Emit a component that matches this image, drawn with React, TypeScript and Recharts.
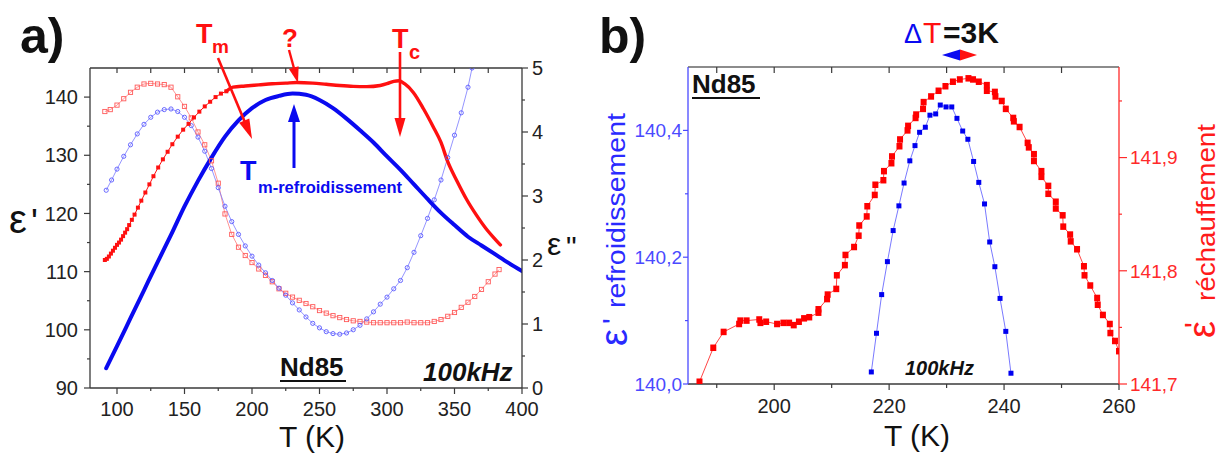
import React from 'react';
import { LineChart, Line, XAxis, YAxis } from 'recharts';

const FONT = '"Liberation Sans", Arial, sans-serif';

// ---------------- Panel a) data ----------------
// epsilon' cooling (thick blue), left axis
const aCoolT = [92, 100, 110, 120, 130, 140, 150, 160, 170, 180, 190, 200, 210, 220, 230, 240, 250, 260, 270, 280, 290, 300, 310, 320, 330, 340, 350, 360, 370, 380, 390, 400];
const aCoolEps1 = [93.4, 97.2, 102.0, 106.8, 111.6, 116.3, 121.2, 125.6, 129.6, 133.2, 136.0, 138.1, 139.5, 140.2, 140.6, 140.4, 139.5, 138.1, 136.3, 134.3, 132.2, 129.8, 127.5, 125.0, 122.5, 120.1, 118.0, 116.0, 114.5, 113.0, 111.5, 110.1];
// epsilon' heating, low-temperature part (red small squares), left axis
const aHeatLowT = [91, 92.5, 94, 95.5, 97, 98.5, 100, 101.5, 103, 104.5, 106, 107.5, 109, 111, 113, 115.5, 118, 121, 124, 127, 130.5, 134, 137.5, 141, 145, 149, 153, 157, 161, 165, 169, 173, 177, 181];
const aHeatLowEps1 = [112.0, 112.2, 112.6, 113.1, 113.6, 114.1, 114.6, 115.0, 115.5, 116.1, 116.7, 117.3, 118.0, 118.9, 119.8, 121.0, 122.2, 123.6, 125.0, 126.4, 127.9, 129.3, 130.6, 131.9, 133.2, 134.4, 135.4, 136.5, 137.5, 138.4, 139.2, 140.0, 140.6, 141.0];
// epsilon' heating, high-temperature part (thick red), left axis
const aHeatHighT = [181, 186, 195, 205, 215, 225, 233, 245, 255, 265, 275, 285, 295, 300, 305, 309, 313, 319.5, 327, 334, 340, 345, 352, 359, 366, 374, 380, 384];
const aHeatHighEps1 = [141.0, 141.7, 141.9, 142.1, 142.3, 142.4, 142.5, 142.4, 142.2, 142.0, 141.85, 141.8, 142.0, 142.3, 142.7, 142.8, 142.3, 140.8, 138.0, 135.0, 132.2, 128.9, 125.5, 122.4, 119.8, 117.2, 115.6, 114.6];
// epsilon'' cooling (open blue circles), right axis
const aCoolE2T = [92, 96, 100, 105, 110, 115, 120, 125, 130, 135, 140, 145, 150, 155, 160, 165, 170, 175, 180, 185, 190, 195, 200, 205, 210, 215, 220, 225, 230, 235, 240, 245, 250, 255, 260, 265, 270, 275, 280, 285, 290, 295, 300, 305, 310, 315, 320, 325, 330, 335, 340, 345, 350, 355, 360, 363];
const aCoolEps2 = [3.09, 3.25, 3.42, 3.62, 3.80, 3.97, 4.12, 4.23, 4.31, 4.35, 4.36, 4.32, 4.23, 4.10, 3.92, 3.70, 3.43, 3.13, 2.84, 2.60, 2.40, 2.22, 2.06, 1.92, 1.80, 1.68, 1.56, 1.45, 1.33, 1.22, 1.11, 1.01, 0.94, 0.88, 0.85, 0.84, 0.86, 0.91, 0.98, 1.08, 1.19, 1.31, 1.42, 1.55, 1.68, 1.88, 2.12, 2.38, 2.65, 2.94, 3.25, 3.60, 3.95, 4.30, 4.70, 5.0];
// epsilon'' heating (open red squares), right axis
const aHeatE2T = [91, 95, 100, 105, 110, 115, 120, 125, 130, 135, 140, 145, 150, 155, 160, 165, 170, 175, 180, 185, 190, 195, 200, 205, 210, 215, 220, 225, 230, 235, 240, 245, 250, 255, 260, 265, 270, 275, 280, 285, 290, 295, 300, 305, 310, 315, 320, 325, 330, 335, 340, 345, 350, 355, 360, 365, 370, 375, 380, 383];
const aHeatEps2 = [4.32, 4.35, 4.42, 4.52, 4.62, 4.70, 4.75, 4.76, 4.75, 4.74, 4.70, 4.55, 4.40, 4.22, 4.00, 3.80, 3.55, 3.20, 2.72, 2.40, 2.20, 2.07, 1.96, 1.86, 1.76, 1.66, 1.55, 1.48, 1.42, 1.37, 1.32, 1.27, 1.21, 1.17, 1.13, 1.10, 1.07, 1.05, 1.04, 1.03, 1.02, 1.02, 1.02, 1.02, 1.02, 1.03, 1.02, 1.02, 1.02, 1.04, 1.07, 1.12, 1.18, 1.26, 1.34, 1.43, 1.54, 1.66, 1.78, 1.85];

const aBottomTicks = [100, 125, 150, 175, 200, 225, 250, 275, 300, 325, 350, 375, 400];
const aBottomMajors = [100, 150, 200, 250, 300, 350, 400];
const aTopTicks = [100, 125, 150, 175, 200, 225, 250, 275, 300, 325, 350, 375];
const aLeftTicks = [90, 95, 100, 105, 110, 115, 120, 125, 130, 135, 140];
const aLeftMajors = [90, 100, 110, 120, 130, 140];
const aRightTicks = [0, 0.5, 1, 1.5, 2, 2.5, 3, 3.5, 4, 4.5, 5];
const aRightMajors = [0, 1, 2, 3, 4, 5];

// ---------------- Panel b) data ----------------
const bCoolT = [216.9, 217.8, 218.7, 219.7, 220.7, 221.7, 222.6, 223.6, 224.5, 225.3, 226.3, 227.1, 228.1, 228.9, 229.9, 230.9, 231.8, 232.8, 233.7, 234.7, 235.6, 236.6, 237.5, 238.4, 239.3, 240.3, 241.2];
const bCoolEps = [140.019, 140.080, 140.141, 140.193, 140.242, 140.281, 140.317, 140.352, 140.376, 140.397, 140.405, 140.424, 140.426, 140.440, 140.437, 140.437, 140.419, 140.399, 140.386, 140.351, 140.318, 140.284, 140.224, 140.185, 140.135, 140.083, 140.017];
const bHeatT = [
  187.0, 189.4, 191.2, 193.9, 194.1, 195.2, 197.4, 197.6, 198.6, 200.5,
  201.6, 202.6, 203.4, 204.3, 205.2, 206.1, 207.7, 207.7, 209.2, 209.3,
  210.8, 210.9, 212.3, 212.4, 213.9, 214.7, 214.8, 216.1, 216.2, 217.5,
  217.6, 219.0, 219.1, 220.4, 220.5, 221.8, 221.9, 223.2, 223.3, 224.6,
  224.7, 225.9, 226.0, 227.3, 228.6, 229.8, 231.1, 232.3, 233.8, 234.6,
  235.6, 237.0, 237.0, 238.4, 238.5, 239.6, 240.3, 241.6, 241.7, 242.7,
  244.1, 244.3, 245.2, 245.2, 246.5, 246.5, 247.7, 247.7, 249.0, 249.0,
  250.2, 250.3, 251.5, 251.6, 252.7, 253.9, 254.0, 255.0, 256.2, 256.3,
  257.2, 258.4, 258.5, 259.3, 260.0,
];
const bHeatEps = [
  141.702, 141.732, 141.746, 141.753, 141.756, 141.756, 141.757, 141.754, 141.755, 141.753,
  141.754, 141.754, 141.752, 141.755, 141.758, 141.759, 141.763, 141.766, 141.775, 141.779,
  141.784, 141.796, 141.805, 141.814, 141.821, 141.831, 141.840, 141.848, 141.857, 141.867,
  141.876, 141.880, 141.888, 141.895, 141.901, 141.910, 141.916, 141.924, 141.928, 141.935,
  141.938, 141.943, 141.949, 141.954, 141.959, 141.963, 141.967, 141.969, 141.970, 141.969,
  141.967, 141.964, 141.959, 141.958, 141.954, 141.950, 141.943, 141.935, 141.932, 141.927,
  141.913, 141.909, 141.903, 141.897, 141.888, 141.883, 141.875, 141.868, 141.861, 141.855,
  141.849, 141.839, 141.832, 141.826, 141.819, 141.804, 141.796, 141.787, 141.776, 141.770,
  141.761, 141.753, 141.745, 141.738, 141.729,
];

const bBottomTicks = [190, 200, 210, 220, 230, 240, 250, 260];
const bBottomMajors = [200, 220, 240, 260];
const bTopTicks = [190, 200, 210, 220, 230, 240, 250];
const bLeftTicks = [140.0, 140.1, 140.2, 140.3, 140.4];
const bLeftMajors = [140.0, 140.2, 140.4];
const bRightTicks = [141.7, 141.75, 141.8, 141.85, 141.9, 141.95];
const bRightMajors = [141.7, 141.8, 141.9];

// ---------------- helpers ----------------
const toPts = (ts: number[], vs: number[]) =>
  ts.slice(0, Math.min(ts.length, vs.length)).map((t, i) => ({ T: t, v: vs[i] }));

const aCoolData = toPts(aCoolT, aCoolEps1);
const aHeatLowData = toPts(aHeatLowT, aHeatLowEps1);
const aHeatHighData = toPts(aHeatHighT, aHeatHighEps1);
const aCoolE2Data = toPts(aCoolE2T, aCoolEps2);
const aHeatE2Data = toPts(aHeatE2T, aHeatEps2);
const bCoolData = toPts(bCoolT, bCoolEps);
const bHeatData = toPts(bHeatT, bHeatEps);

type TickCfg = {
  side: 'bottom' | 'top' | 'left' | 'right';
  majors: number[];
  majorLen: number;
  minorLen: number;
  fmt?: (v: number) => string;
  color: string;
  tickColor: string;
  fontSize: number;
  offset: number;
};

const makeTick = (cfg: TickCfg) => (props: any) => {
  const { x, y, payload } = props;
  const v = payload.value as number;
  const isMajor = cfg.majors.some((m) => Math.abs(m - v) < 1e-6);
  const len = isMajor ? cfg.majorLen : cfg.minorLen;
  const lineProps = { stroke: cfg.tickColor, strokeWidth: 1.2 };
  let line: any = null;
  let text: any = null;
  const label = cfg.fmt ? cfg.fmt(v) : String(v);
  const tp = { fill: cfg.color, fontSize: cfg.fontSize, fontFamily: FONT };
  if (cfg.side === 'bottom') {
    line = <line x1={x} y1={y} x2={x} y2={y + len} {...lineProps} />;
    if (isMajor && cfg.fmt) text = <text x={x} y={y + cfg.offset} textAnchor="middle" {...tp}>{label}</text>;
  } else if (cfg.side === 'top') {
    line = <line x1={x} y1={y} x2={x} y2={y + len} {...lineProps} />;
  } else if (cfg.side === 'left') {
    line = <line x1={x - len} y1={y} x2={x} y2={y} {...lineProps} />;
    if (isMajor && cfg.fmt) text = <text x={x - cfg.offset} y={y} dy="0.36em" textAnchor="end" {...tp}>{label}</text>;
  } else {
    line = <line x1={x} y1={y} x2={x + len} y2={y} {...lineProps} />;
    if (isMajor && cfg.fmt) text = <text x={x + cfg.offset} y={y} dy="0.36em" textAnchor="start" {...tp}>{label}</text>;
  }
  return (
    <g>
      {line}
      {text}
    </g>
  );
};

const AX = '#3a3a3a';
const fmtInt = (v: number) => String(Math.round(v));
const fmtComma = (v: number) => v.toFixed(1).replace('.', ',');

const tickABottom = makeTick({ side: 'bottom', majors: aBottomMajors, majorLen: 6, minorLen: 3, fmt: fmtInt, color: '#222', tickColor: AX, fontSize: 20, offset: 28 });
const tickATop = makeTick({ side: 'top', majors: [], majorLen: 5, minorLen: 5, color: '#222', tickColor: AX, fontSize: 20, offset: 0 });
const tickALeft = makeTick({ side: 'left', majors: aLeftMajors, majorLen: 6, minorLen: 3, fmt: fmtInt, color: '#222', tickColor: AX, fontSize: 20, offset: 12 });
const tickARight = makeTick({ side: 'right', majors: aRightMajors, majorLen: 6, minorLen: 3, fmt: fmtInt, color: '#222', tickColor: AX, fontSize: 20, offset: 10 });

const BLUE_AX = '#4a4aff';
const RED_AX = '#ff2a2a';
const tickBBottom = makeTick({ side: 'bottom', majors: bBottomMajors, majorLen: 6, minorLen: 4, fmt: fmtInt, color: '#222', tickColor: AX, fontSize: 20, offset: 29 });
const tickBTop = makeTick({ side: 'top', majors: [], majorLen: 6, minorLen: 6, color: '#222', tickColor: AX, fontSize: 20, offset: 0 });
const tickBLeft = makeTick({ side: 'left', majors: bLeftMajors, majorLen: 5, minorLen: 3, fmt: fmtComma, color: BLUE_AX, tickColor: BLUE_AX, fontSize: 19, offset: 6 });
const tickBRight = makeTick({ side: 'right', majors: bRightMajors, majorLen: 8, minorLen: 3, fmt: fmtComma, color: RED_AX, tickColor: RED_AX, fontSize: 19, offset: 11 });

const hollowCircle = (color: string) => (p: any) =>
  p.cx == null ? <g key={`hc${p.index}`} /> : (
    <circle key={`hc${p.index}`} cx={p.cx} cy={p.cy} r={2.1} fill="none" stroke={color} strokeWidth={0.9} />
  );
const hollowSquare = (color: string) => (p: any) =>
  p.cx == null ? <g key={`hs${p.index}`} /> : (
    <rect key={`hs${p.index}`} x={p.cx - 2.1} y={p.cy - 2.1} width={4.2} height={4.2} fill="none" stroke={color} strokeWidth={0.9} />
  );
const filledSquare = (color: string, s: number, h?: number) => (p: any) =>
  p.cx == null ? <g key={`fs${p.index}`} /> : (
    <rect key={`fs${p.index}`} x={p.cx - s / 2} y={p.cy - (h ?? s) / 2} width={s} height={h ?? s} fill={color} stroke="none" />
  );

function Arrow({ x1, y1, x2, y2, color, w, hl, hw }: any) {
  const dx = x2 - x1;
  const dy = y2 - y1;
  const L = Math.hypot(dx, dy);
  const ux = dx / L;
  const uy = dy / L;
  const bx = x2 - ux * hl;
  const by = y2 - uy * hl;
  const px = -uy;
  const py = ux;
  return (
    <g>
      <line x1={x1} y1={y1} x2={bx + ux * 2} y2={by + uy * 2} stroke={color} strokeWidth={w} />
      <polygon points={`${x2},${y2} ${bx + (px * hw) / 2},${by + (py * hw) / 2} ${bx - (px * hw) / 2},${by - (py * hw) / 2}`} fill={color} />
    </g>
  );
}

const RED = '#ff1010';
const BLUE = '#0a0af0';

export default function App() {
  return (
    <div style={{ position: 'absolute', left: 0, top: 0, width: 1225, height: 454, background: '#fff', overflow: 'hidden', fontFamily: FONT }}>
      {/* Panel a */}
      <div style={{ position: 'absolute', left: 0, top: 0 }}>
        <LineChart width={560} height={454} margin={{ top: 67, right: 8, bottom: 36, left: 30 }}>
          <XAxis xAxisId="b" dataKey="T" type="number" domain={[80, 400]} ticks={aBottomTicks} interval={0} tickSize={0} tickMargin={0} tickLine={false} height={30} axisLine={{ stroke: AX, strokeWidth: 1.3 }} tick={tickABottom} allowDataOverflow />
          <XAxis xAxisId="t" orientation="top" dataKey="T" type="number" domain={[80, 400]} ticks={aTopTicks} interval={0} tickSize={0} tickMargin={0} tickLine={false} height={1} axisLine={{ stroke: AX, strokeWidth: 1.3 }} tick={tickATop} allowDataOverflow />
          <YAxis yAxisId="l" type="number" domain={[90, 145]} ticks={aLeftTicks} interval={0} tickSize={0} tickMargin={0} tickLine={false} width={60} axisLine={{ stroke: AX, strokeWidth: 1.3 }} tick={tickALeft} allowDataOverflow />
          <YAxis yAxisId="r" orientation="right" type="number" domain={[0, 5]} ticks={aRightTicks} interval={0} tickSize={0} tickMargin={0} tickLine={false} width={30} axisLine={{ stroke: AX, strokeWidth: 1.3 }} tick={tickARight} allowDataOverflow />
          <Line xAxisId="b" yAxisId="r" data={aHeatE2Data} dataKey="v" type="linear" stroke="#ff7a7a" strokeWidth={0.8} dot={hollowSquare('#ff5a5a')} isAnimationActive={false} />
          <Line xAxisId="b" yAxisId="r" data={aCoolE2Data} dataKey="v" type="linear" stroke="#7a7aff" strokeWidth={0.8} dot={hollowCircle('#5a5aff')} isAnimationActive={false} />
          <Line xAxisId="b" yAxisId="l" data={aHeatLowData} dataKey="v" type="linear" stroke={RED} strokeWidth={1} dot={filledSquare(RED, 4)} isAnimationActive={false} />
          <Line xAxisId="b" yAxisId="l" data={aHeatHighData} dataKey="v" type="monotone" stroke={RED} strokeWidth={3.4} strokeLinecap="round" dot={false} isAnimationActive={false} />
          <Line xAxisId="b" yAxisId="l" data={aCoolData} dataKey="v" type="monotone" stroke={BLUE} strokeWidth={4} strokeLinecap="round" dot={false} isAnimationActive={false} />
        </LineChart>
      </div>

      {/* Panel b */}
      <div style={{ position: 'absolute', left: 600, top: 0 }}>
        <LineChart width={625} height={454} margin={{ top: 66, right: 46, bottom: 40, left: 28 }}>
          <XAxis xAxisId="b" dataKey="T" type="number" domain={[185, 260]} ticks={bBottomTicks} interval={0} tickSize={0} tickMargin={0} tickLine={false} height={30} axisLine={{ stroke: AX, strokeWidth: 1.3 }} tick={tickBBottom} allowDataOverflow />
          <XAxis xAxisId="t" orientation="top" dataKey="T" type="number" domain={[185, 260]} ticks={bTopTicks} interval={0} tickSize={0} tickMargin={0} tickLine={false} height={1} axisLine={{ stroke: '#666', strokeWidth: 1.3 }} tick={tickBTop} allowDataOverflow />
          <YAxis yAxisId="l" type="number" domain={[140.0, 140.5]} ticks={bLeftTicks} interval={0} tickSize={0} tickMargin={0} tickLine={false} width={60} axisLine={{ stroke: BLUE_AX, strokeWidth: 1.3 }} tick={tickBLeft} allowDataOverflow />
          <YAxis yAxisId="r" orientation="right" type="number" domain={[141.7, 141.98]} ticks={bRightTicks} interval={0} tickSize={0} tickMargin={0} tickLine={false} width={60} axisLine={{ stroke: RED_AX, strokeWidth: 1.3 }} tick={tickBRight} allowDataOverflow />
          <Line xAxisId="b" yAxisId="r" data={bHeatData} dataKey="v" type="linear" stroke="#ff3030" strokeWidth={0.9} dot={filledSquare('#ff0000', 6, 6.5)} isAnimationActive={false} />
          <Line xAxisId="b" yAxisId="l" data={bCoolData} dataKey="v" type="linear" stroke="#6a6aff" strokeWidth={0.9} dot={filledSquare('#0000f0', 5)} isAnimationActive={false} />
        </LineChart>
      </div>

      {/* Annotations */}
      <svg width={1225} height={454} style={{ position: 'absolute', left: 0, top: 0, pointerEvents: 'none' }} fontFamily={FONT}>
        {/* panel labels */}
        <text x={20} y={53} fontSize={50} fontWeight={700} fill="#111">a)</text>
        <text x={599} y={53} fontSize={50} fontWeight={700} fill="#111">b)</text>

        {/* panel a axis titles */}
        <text x={9} y={233} fontSize={40} fill="#111">ε</text>
        <text x={31} y={235} fontSize={36} fill="#111">'</text>
        <text x={547} y={255} fontSize={32} fill="#111">ε</text>
        <text x={566} y={257} fontSize={30} fill="#111">"</text>
        <text x={312} y={447} fontSize={30} textAnchor="middle" fill="#111">T (K)</text>

        {/* panel a annotations */}
        <text x={196} y={43} fontSize={27} fontWeight={700} fill={RED}>T</text>
        <text x={212} y={53} fontSize={19} fontWeight={700} fill={RED}>m</text>
        <Arrow x1={218} y1={58} x2={252} y2={139} color={RED} w={2.6} hl={20} hw={11} />
        <text x={282} y={47} fontSize={26} fontWeight={700} fill={RED}>?</text>
        <Arrow x1={289} y1={50} x2={298} y2={83} color={RED} w={2.4} hl={16} hw={10} />
        <text x={392} y={48} fontSize={27} fontWeight={700} fill={RED}>T</text>
        <text x={409} y={59} fontSize={20} fontWeight={700} fill={RED}>c</text>
        <Arrow x1={400} y1={52} x2={400} y2={137} color={RED} w={2.6} hl={19} hw={11} />
        <Arrow x1={294} y1={168} x2={294} y2={104} color={BLUE} w={3} hl={18} hw={12} />
        <text x={240} y={180} fontSize={27} fontWeight={700} fill={BLUE}>T</text>
        <text x={258} y={193} fontSize={16.5} fontWeight={700} fill={BLUE}>m-refroidissement</text>
        <text x={280} y={376} fontSize={26} fontWeight={700} fill="#111">Nd85</text>
        <line x1={280} y1={381} x2={346} y2={381} stroke="#111" strokeWidth={2} />
        <text x={423} y={381} fontSize={26} fontWeight={700} fontStyle="italic" fill="#111">100kHz</text>

        {/* panel b annotations */}
        <text x={904} y={43} fontSize={27} fill={BLUE}>Δ</text>
        <text x={923} y={43} fontSize={30} fill={RED}>T</text>
        <text x={943} y={43} fontSize={30} fontWeight={700} fill="#111">=3K</text>
        <polygon points="942,55 960,49.5 960,60.5" fill={BLUE} />
        <polygon points="977,55 960,49.5 960,60.5" fill={RED} />
        <text x={692} y={93} fontSize={26} fontWeight={700} fill="#111">Nd85</text>
        <line x1={692} y1={98} x2={760} y2={98} stroke="#111" strokeWidth={2} />
        <text x={905} y={375} fontSize={20} fontWeight={700} fontStyle="italic" fill="#111">100kHz</text>
        <text x={917} y={446} fontSize={30} textAnchor="middle" fill="#111">T (K)</text>

        {/* rotated axis titles panel b */}
        <text transform="translate(627,346) rotate(-90)" fontSize={38} fill="#2a2aff">ε</text>
        <text transform="translate(623,324) rotate(-90)" fontSize={30} fill="#2a2aff">'</text>
        <text transform="translate(625,308) rotate(-90)" fontSize={26} textLength={195} lengthAdjust="spacingAndGlyphs" fill="#2a2aff">refroidissement</text>
        <text transform="translate(1215,338) rotate(-90)" fontSize={38} fill="#ff1a1a">ε</text>
        <text transform="translate(1205,328) rotate(-90)" fontSize={30} fill="#ff1a1a">'</text>
        <text transform="translate(1215,301) rotate(-90)" fontSize={26} textLength={177} lengthAdjust="spacingAndGlyphs" fill="#ff1a1a">réchauffement</text>
      </svg>
    </div>
  );
}
